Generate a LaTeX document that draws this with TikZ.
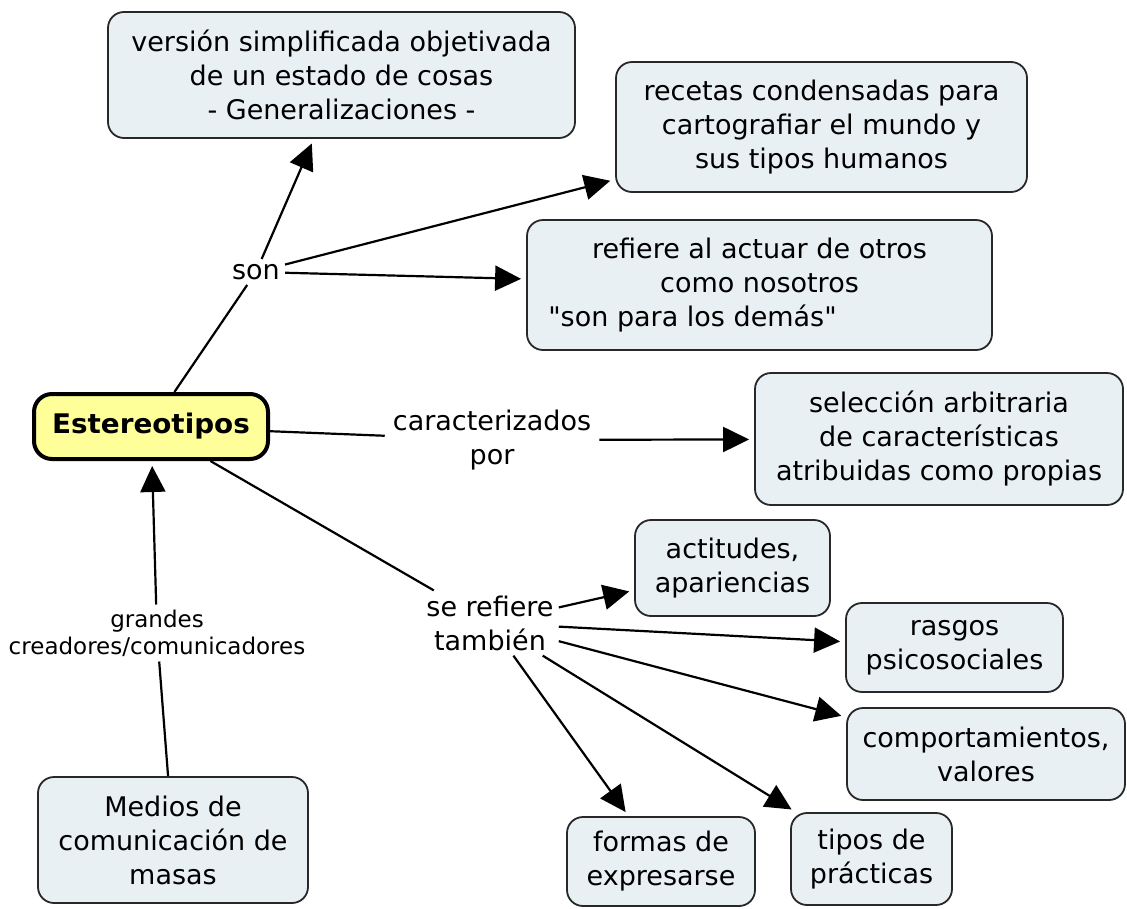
\documentclass[tikz,border=0pt]{standalone}
\usepackage{fontspec}
\setmainfont{DejaVu Sans}[Ligatures=TeXOff]
\newfontfamily\boldwide{DejaVu Sans}[FakeStretch=1.03]
\usetikzlibrary{arrows.meta}
\definecolor{boxfill}{RGB}{232,240,244}
\definecolor{boxline}{RGB}{40,40,40}
\definecolor{mainfill}{RGB}{255,255,153}
\begin{document}
\begin{tikzpicture}[x=1pt,y=-1pt,
  concept/.style={draw=boxline, line width=1.8pt, fill=boxfill, rounded corners=16pt,
    align=center, inner sep=0pt, font=\fontsize{27}{34}\selectfont},
  mainconcept/.style={draw=black, line width=4pt, fill=mainfill, rounded corners=18pt,
    align=center, inner sep=0pt, font=\fontsize{27}{34}\selectfont\boldwide\bfseries},
  linkph/.style={align=center, inner sep=5pt, font=\fontsize{27}{34}\selectfont},
  smalllink/.style={align=center, inner sep=5pt, font=\fontsize{23}{27}\selectfont},
  conn/.style={line width=2.2pt, black},
  arr/.style={conn, -{Triangle[length=26pt,width=25pt]}, shorten >=5pt},
]
\useasboundingbox (0,0) rectangle (1127,908);

% concepts
\node[mainconcept, minimum width=234pt, minimum height=65pt] (est) at (151,426.5) {Estereotipos};
\node[concept, minimum width=467pt, minimum height=126pt] (top) at (341.5,75)
  {versión simplificada objetivada\\de un estado de cosas\\- Generalizaciones -};
\node[concept, minimum width=411pt, minimum height=130pt] (recetas) at (821.5,127)
  {recetas condensadas para\\cartografiar el mundo y\\sus tipos humanos};
\node[concept, minimum width=465pt, minimum height=130pt] (refiere) at (759.5,285)
  {refiere al actuar de otros\\como nosotros\\"son para los demás"\hspace*{134pt}};
\node[concept, minimum width=368pt, minimum height=132pt] (selec) at (939,439)
  {selección arbitraria\\de características\\atribuidas como propias};
\node[concept, minimum width=195pt, minimum height=96pt] (actit) at (732.5,568)
  {actitudes,\\apariencias};
\node[concept, minimum width=217pt, minimum height=89pt] (rasgos) at (954.5,647.5)
  {rasgos\\psicosociales};
\node[concept, minimum width=278pt, minimum height=92pt] (comport) at (986,754)
  {comportamientos,\\valores};
\node[concept, minimum width=188pt, minimum height=89pt] (formas) at (661,861.5)
  {formas de\\expresarse};
\node[concept, minimum width=161pt, minimum height=92pt] (tipos) at (871.5,859)
  {tipos de\\prácticas};
\node[concept, minimum width=270pt, minimum height=126pt] (medios) at (173,840)
  {Medios de\\comunicación de\\masas};

% linking phrases
\node[linkph] (son) at (256,272) {son};
\node[linkph, inner xsep=8pt] (carac) at (492,440) {caracterizados\\por};
\node[linkph] (seref) at (490,623) {se refiere\\también};
\node[smalllink] (grandes) at (157,633) {grandes\\creadores/comunicadores};

% connectors
\draw[conn] (est) -- (son);
\draw[arr] (son) -- (top);
\draw[arr] (son) -- (recetas);
\draw[arr] (son) -- (refiere);
\draw[conn] (est) -- (carac);
\draw[arr] (carac) -- (selec);
\draw[conn] (est) -- (seref);
\draw[arr] (seref) -- (actit);
\draw[arr] (seref) -- (rasgos);
\draw[arr] (seref) -- (comport);
\draw[arr] (seref) -- (formas);
\draw[arr] (seref) -- (tipos);
\draw[conn] (medios) -- (grandes);
\draw[arr] (grandes) -- (est);
\end{tikzpicture}
\end{document}
